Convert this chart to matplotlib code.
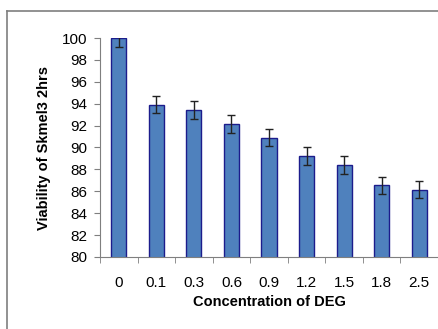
import matplotlib.pyplot as plt
from matplotlib.lines import Line2D

plt.rcParams['font.family'] = ['Liberation Sans', 'DejaVu Sans']

# DEG concentration vs. Skmel3 viability after 2 hrs
concentrations = ['0', '0.1', '0.3', '0.6', '0.9', '1.2', '1.5', '1.8', '2.5']
viability = [100, 93.9, 93.45, 92.15, 90.9, 89.2, 88.4, 86.55, 86.15]
errors = [0.8, 0.78, 0.82, 0.8, 0.8, 0.8, 0.8, 0.8, 0.8]

W, H = 439, 329
fig = plt.figure(figsize=(W / 100, H / 100), dpi=100)

# chart-area frame: only the top and left edges fall inside the image
fx, fy = 7.5 / W, 1 - 11 / H
fig.add_artist(Line2D([fx, 1.0], [fy, fy], transform=fig.transFigure,
                      color='#7f7f7f', linewidth=1.2))
fig.add_artist(Line2D([fx, fx], [0.0, fy], transform=fig.transFigure,
                      color='#7f7f7f', linewidth=1.2))

ax = fig.add_axes([100 / W, 1 - 257 / H, 338 / W, 219 / H])
x = range(len(concentrations))
ax.bar(x, viability, width=0.4, color='#4f81bd', edgecolor='#1c1c8c', linewidth=1.0,
       yerr=errors, error_kw=dict(ecolor='#222222', elinewidth=1.0, capsize=3, capthick=1.0),
       zorder=2)

ax.set_ylim(80, 100)
ax.set_xlim(-0.5, len(concentrations) - 0.5)
ax.set_yticks(range(80, 101, 2))
ax.set_xticks(x)
ax.set_xticklabels(concentrations)
# category boundary ticks on the x axis
ax.set_xticks([i - 0.5 for i in range(len(concentrations) + 1)], minor=True)
ax.tick_params(axis='x', which='major', length=0, pad=14, labelsize=11)
ax.tick_params(axis='x', which='minor', length=4, direction='out', color='#7f7f7f')
ax.tick_params(axis='y', length=4, direction='out', color='#7f7f7f', labelsize=11, pad=5)

for side in ['top', 'right']:
    ax.spines[side].set_visible(False)
for side in ['left', 'bottom']:
    ax.spines[side].set_color('#7f7f7f')

ax.set_ylabel('Viability of Skmel3 2hrs', fontsize=10.5, fontweight='bold', labelpad=8)
ax.set_xlabel('Concentration of DEG', fontsize=10.5, fontweight='bold', labelpad=3)

fig.savefig('out.png', dpi=100)
